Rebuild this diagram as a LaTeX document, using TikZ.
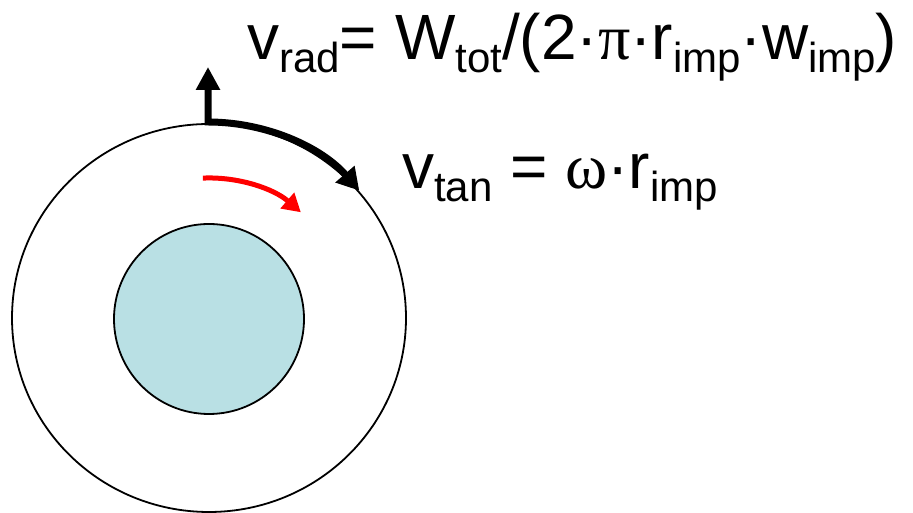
\documentclass[tikz,border=0pt]{standalone}
\usepackage{fontspec}
\setmainfont{Liberation Sans}
\newfontfamily\symf{Liberation Serif}
\usetikzlibrary{arrows.meta}
\definecolor{corefill}{HTML}{B9E0E4}
\newcommand{\sbs}[1]{\raisebox{-13pt}{\fontsize{42}{42}\selectfont #1}}
\begin{document}
\begin{tikzpicture}[x=1pt,y=1pt,
  eqtext/.style={anchor=base west, inner sep=0pt, font=\fontsize{64}{64}\selectfont},
  ring/.style={line width=1.8pt, draw=black},
  bigarrow/.style={line width=7pt, line join=miter},
  redarrow/.style={line width=5pt, draw=red}]
\useasboundingbox (0,0) rectangle (913,513);
\coordinate (c) at (209,195);
\coordinate (ci) at (209,194);
\draw[ring] (c) ellipse [x radius=197, y radius=194];
\draw[ring, fill=corefill] (ci) circle [radius=95];
\coordinate (top) at (208,446);
\coordinate (corner) at (208,391);
\draw[bigarrow, {Triangle[length=23pt,width=23pt]}-{Triangle[length=22pt,width=24pt]}]
  (top) -- (corner) arc [start angle=90, end angle=40.5, x radius=199, y radius=196];
\coordinate (rs) at (202.9,334.9);
\draw[redarrow, -{Triangle[length=18pt,width=20pt]}]
  (rs) arc [start angle=92.5, end angle=49, radius=140];
\node[eqtext] (vrad) at (247,453) {v\sbs{rad}= W\sbs{tot}/(2·{\symf π}·r\sbs{imp}·w\sbs{imp})};
\node[eqtext] (vtan) at (402,324) {v\sbs{tan} = {\symf ω}·r\sbs{imp}};
\end{tikzpicture}
\end{document}
